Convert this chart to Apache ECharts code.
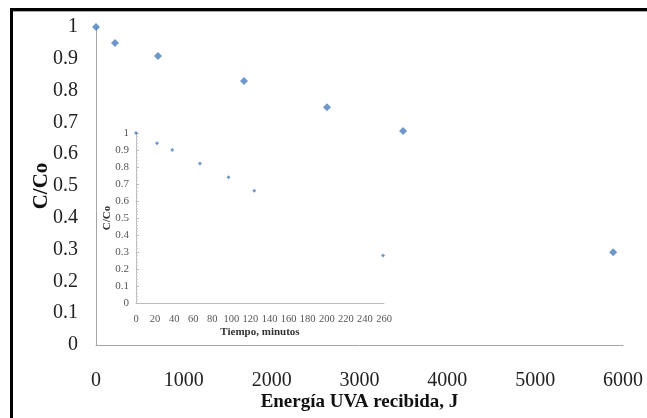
<!DOCTYPE html>
<html>
<head>
<meta charset="utf-8">
<script src="https://cdn.jsdelivr.net/npm/echarts@6/dist/echarts.min.js"></script>
<style>html,body{margin:0;padding:0;background:#fff}#c{width:647px;height:418px}</style>
</head>
<body>
<div id="c"></div>
<script>
// Main chart: energy (J) vs C/Co
const energyJ = [0, 216, 706, 1685, 2630, 3496, 5888];
const ratioMain = [1.0, 0.95, 0.909, 0.830, 0.748, 0.673, 0.292];
// Inset: time (minutes) vs C/Co
const timeMin = [0, 22, 38, 67, 97, 124, 259];
const ratioInset = [1.0, 0.94, 0.90, 0.82, 0.74, 0.66, 0.28];

const serif = 'Liberation Serif';
const chart = echarts.init(document.getElementById('c'));
chart.setOption({
  animation: false,
  backgroundColor: '#fff',
  graphic: [
    {type: 'rect', shape: {x: 10, y: 8, width: 637, height: 3}, style: {fill: '#000'}, z: 100},
    {type: 'rect', shape: {x: 13, y: 11, width: 634, height: 1}, style: {fill: '#aaa'}, z: 100},
    {type: 'rect', shape: {x: 10, y: 8, width: 3, height: 410}, style: {fill: '#000'}, z: 100}
  ],
  grid: [
    {left: 96, right: 24, top: 27, bottom: 73},
    {left: 136, right: 263, top: 133, bottom: 115}
  ],
  xAxis: [
    {
      gridIndex: 0, type: 'value', min: 0, max: 6000, interval: 1000,
      name: 'Energía UVA recibida, J', nameLocation: 'middle', nameGap: 48, nameMoveOverlap: false,
      nameTextStyle: {fontFamily: serif, fontWeight: 'bold', fontSize: 19, color: '#111'},
      axisLine: {show: true, lineStyle: {color: '#a6a6a6', width: 1}},
      axisTick: {show: false},
      splitLine: {show: false},
      axisLabel: {fontFamily: serif, fontSize: 20, color: '#222', margin: 26,
        formatter: v => String(v)}
    },
    {
      gridIndex: 1, type: 'value', min: 0, max: 260, interval: 20,
      name: 'Tiempo, minutos', nameLocation: 'middle', nameGap: 24, nameMoveOverlap: false,
      nameTextStyle: {fontFamily: serif, fontWeight: 'bold', fontSize: 11, color: '#333'},
      axisLine: {show: true, lineStyle: {color: '#bbb', width: 1}},
      axisTick: {show: false},
      splitLine: {show: false},
      axisLabel: {fontFamily: serif, fontSize: 10.5, color: '#555', margin: 11,
        formatter: v => String(v)}
    }
  ],
  yAxis: [
    {
      gridIndex: 0, type: 'value', min: 0, max: 1, interval: 0.1,
      name: 'C/Co', nameLocation: 'middle', nameGap: 44, nameMoveOverlap: false,
      nameTextStyle: {fontFamily: serif, fontWeight: 'bold', fontSize: 21, color: '#111'},
      axisLine: {show: true, lineStyle: {color: '#a6a6a6', width: 1}},
      axisTick: {show: false},
      splitLine: {show: false},
      axisLabel: {fontFamily: serif, fontSize: 20, color: '#222', margin: 18,
        formatter: v => String(Math.round(v * 10) / 10)}
    },
    {
      gridIndex: 1, type: 'value', min: 0, max: 1, interval: 0.1,
      name: 'C/Co', nameLocation: 'middle', nameGap: 23, nameMoveOverlap: false,
      nameTextStyle: {fontFamily: serif, fontWeight: 'bold', fontSize: 11, color: '#333'},
      axisLine: {show: true, lineStyle: {color: '#bbb', width: 1}},
      axisTick: {show: true, inside: true, length: 3, lineStyle: {color: '#bbb'}},
      minorTick: {show: true, splitNumber: 5, length: 2, lineStyle: {color: '#ccc'}},
      splitLine: {show: false},
      axisLabel: {fontFamily: serif, fontSize: 11, color: '#555', margin: 7,
        formatter: v => String(Math.round(v * 10) / 10)}
    }
  ],
  series: [
    {
      type: 'scatter', xAxisIndex: 0, yAxisIndex: 0,
      data: energyJ.map((x, i) => [x, ratioMain[i]]),
      symbol: 'diamond', symbolSize: 8,
      itemStyle: {color: '#4a7ebb'}
    },
    {
      type: 'scatter', xAxisIndex: 1, yAxisIndex: 1,
      data: timeMin.map((x, i) => [x, ratioInset[i]]),
      symbol: 'diamond', symbolSize: 4,
      itemStyle: {color: '#4a7ebb'}
    }
  ]
});
</script>
</body>
</html>
